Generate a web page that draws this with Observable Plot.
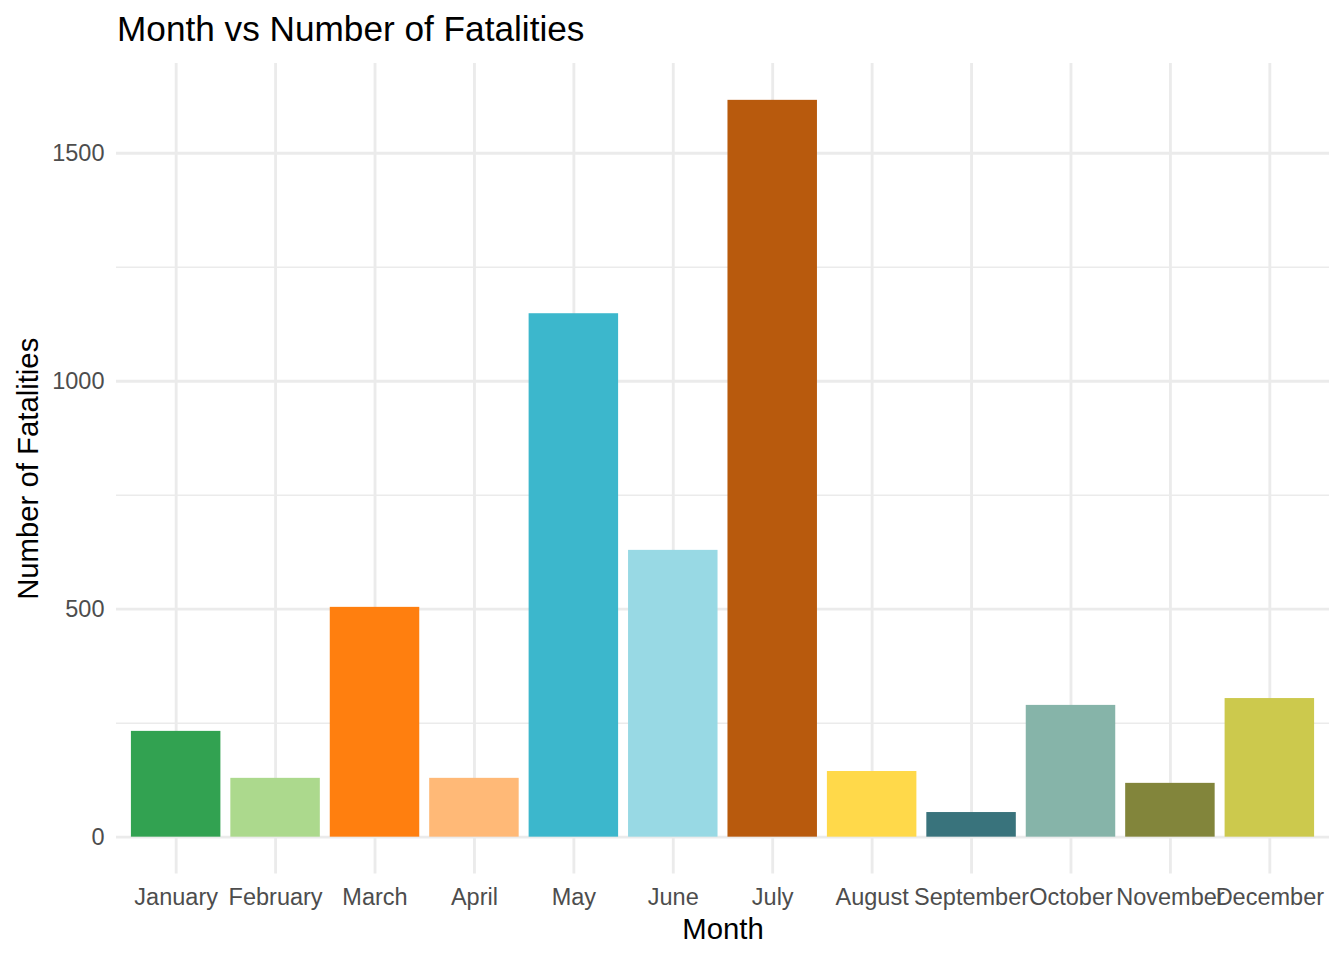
<!DOCTYPE html>
<html>
<head>
<meta charset="utf-8">
<script src="https://cdn.jsdelivr.net/npm/d3@7"></script>
<script src="https://cdn.jsdelivr.net/npm/@observablehq/plot@0.6"></script>
<style>
  html, body { margin: 0; padding: 0; background: #fff; }
  #wrap { width: 1344px; height: 960px; position: relative; font-family: "Liberation Sans", Arial, sans-serif; }
  #title { height: 56px; position: relative; }
  #title span { position: absolute; left: 117px; top: 9px; font-size: 35.2px; color: #000; white-space: nowrap; }
  svg { display: block; }
</style>
</head>
<body>
<div id="wrap">
  <div id="title"><span>Month vs Number of Fatalities</span></div>
  <div id="chart"></div>
</div>
<script>
const months = ["January","February","March","April","May","June","July","August","September","October","November","December"];
const fatalities = [232, 129, 504, 129, 1148, 629, 1616, 144, 54, 289, 118, 304];
const colors = ["#32A251","#ACD98D","#FF7F0F","#FFB977","#3CB7CC","#98D9E4","#B85A0D","#FFD94A","#39737C","#86B4A9","#82853B","#CCC94D"];
const majorTicks = [0, 500, 1000, 1500];
const minorTicks = [250, 750, 1250];

const data = months.map((m, i) => ({month: m, value: fatalities[i]}));
const maxV = d3.max(fatalities);
const yDomain = [-0.05 * maxV, 1.05 * maxV];

const chart = Plot.plot({
  width: 1344,
  height: 904,
  marginLeft: 116,
  marginRight: 15,
  marginTop: 7,
  marginBottom: 86.5,
  style: {fontFamily: "Liberation Sans, Arial, sans-serif", fontSize: "23.5px", background: "#fff"},
  x: {domain: months, paddingInner: 0.1, paddingOuter: 0.15, align: 0.5, round: false, label: null},
  y: {domain: yDomain, label: null},
  color: {type: "ordinal", domain: months, range: colors},
  marks: [
    Plot.gridY(minorTicks, {stroke: "#EBEBEB", strokeOpacity: 1, strokeWidth: 1.42}),
    Plot.gridX(months, {stroke: "#EBEBEB", strokeOpacity: 1, strokeWidth: 2.85}),
    Plot.gridY(majorTicks, {stroke: "#EBEBEB", strokeOpacity: 1, strokeWidth: 2.85}),
    Plot.barY(data, {x: "month", y: "value", fill: "month"}),
    Plot.axisX({tickSize: 0, tickPadding: 14, color: "#4D4D4D", label: null, fontSize: 23.5}),
    Plot.axisY(majorTicks, {tickSize: 0, tickPadding: 12, color: "#4D4D4D", label: null, fontSize: 23.5, tickFormat: d3.format("d")}),
    Plot.text(["Month"], {frameAnchor: "bottom", dy: 56, lineAnchor: "middle", textAnchor: "middle", fontSize: 29.3, fill: "#000"}),
    Plot.text(["Number of Fatalities"], {frameAnchor: "left", dx: -88, rotate: -90, lineAnchor: "middle", textAnchor: "middle", fontSize: 29.3, fill: "#000"})
  ]
});
document.getElementById("chart").appendChild(chart);
</script>
</body>
</html>
